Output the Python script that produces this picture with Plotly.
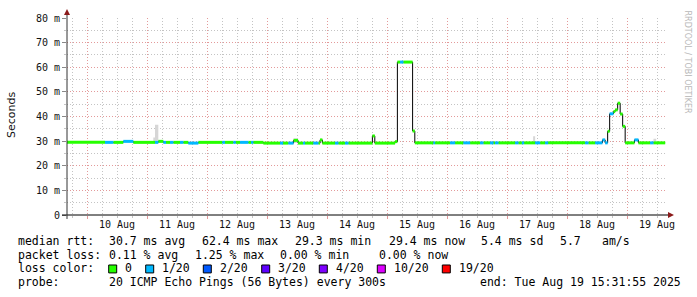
import plotly.graph_objects as go

# ---------------- data ----------------
seg_start = [
    "2025-08-09 16:00", "2025-08-10 07:12", "2025-08-10 10:31", "2025-08-10 14:31", "2025-08-10 18:31",
    "2025-08-11 03:12", "2025-08-11 04:31", "2025-08-11 06:31", "2025-08-11 07:36", "2025-08-11 09:12",
    "2025-08-11 10:31", "2025-08-11 13:12", "2025-08-11 14:31", "2025-08-11 16:31", "2025-08-11 20:31",
    "2025-08-12 06:07", "2025-08-12 07:12", "2025-08-12 10:31", "2025-08-12 11:29", "2025-08-12 13:12",
    "2025-08-12 16:31", "2025-08-12 17:36", "2025-08-12 18:31", "2025-08-12 22:31", "2025-08-13 05:12",
    "2025-08-13 06:24", "2025-08-13 08:31", "2025-08-13 10:36", "2025-08-13 12:24", "2025-08-13 14:24",
    "2025-08-13 15:12", "2025-08-13 18:31", "2025-08-13 20:31", "2025-08-13 21:12", "2025-08-13 22:07",
    "2025-08-14 03:12", "2025-08-14 04:31", "2025-08-14 07:12", "2025-08-14 08:31", "2025-08-14 18:07",
    "2025-08-14 19:05", "2025-08-15 03:12", "2025-08-15 04:07", "2025-08-15 05:12", "2025-08-15 06:31",
    "2025-08-15 10:12", "2025-08-15 11:05", "2025-08-15 18:31", "2025-08-15 19:12", "2025-08-16 01:12",
    "2025-08-16 03:12", "2025-08-16 06:31", "2025-08-16 09:12", "2025-08-16 13:12", "2025-08-16 14:31",
    "2025-08-16 17:12", "2025-08-16 18:31", "2025-08-16 19:12", "2025-08-16 20:31", "2025-08-17 03:12",
    "2025-08-17 04:31", "2025-08-17 05:53", "2025-08-17 06:48", "2025-08-17 11:12", "2025-08-17 13:12",
    "2025-08-17 15:12", "2025-08-17 16:24", "2025-08-18 07:12", "2025-08-18 08:31", "2025-08-18 11:12",
    "2025-08-18 14:07", "2025-08-18 15:12", "2025-08-18 16:12", "2025-08-18 17:00", "2025-08-18 18:31",
    "2025-08-18 19:12", "2025-08-18 20:12", "2025-08-18 21:12", "2025-08-18 22:12", "2025-08-18 23:12",
    "2025-08-19 02:55", "2025-08-19 04:31", "2025-08-19 09:12", "2025-08-19 10:31",
]
data_end = "2025-08-19 15:12"

seg_rtt_ms = [
    29.5, 29.5, 29.5, 29.9, 29.5,
    29.5, 29.9, 29.5, 29.5, 29.5,
    29.5, 29.5, 29.5, 29.2, 29.5,
    29.5, 29.5, 29.5, 29.5, 29.5,
    29.5, 29.5, 29.5, 29.2, 29.2,
    29.2, 29.2, 30.3, 29.2, 29.2,
    29.2, 29.2, 29.2, 30.5, 29.2,
    29.2, 29.2, 29.2, 29.2, 32.1,
    29.2, 29.8, 62.1, 62.1, 62.1,
    34.1, 29.3, 29.3, 29.3, 29.3,
    29.3, 29.3, 29.3, 29.3, 29.3,
    29.3, 29.3, 29.3, 29.3, 29.3,
    29.3, 29.3, 29.3, 29.3, 29.3,
    29.3, 29.3, 29.3, 29.3, 29.3,
    30.5, 29.3, 34.0, 41.1, 42.0,
    42.7, 45.4, 41.0, 36.0, 29.3,
    30.5, 29.3, 29.3, 29.3,
]

# lost pings out of 20 per segment
seg_loss = [
    0, 1, 0, 1, 0,
    1, 0, 1, 0, 1,
    0, 1, 0, 1, 0,
    1, 0, 1, 0, 1,
    0, 1, 0, 0, 1,
    0, 1, 0, 0, 1,
    0, 1, 0, 0, 0,
    1, 0, 1, 0, 0,
    0, 0, 0, 1, 0,
    0, 0, 1, 0, 1,
    0, 1, 0, 1, 0,
    1, 0, 1, 0, 1,
    0, 1, 0, 1, 0,
    1, 0, 1, 0, 1,
    1, 1, 0, 1, 0,
    0, 0, 0, 0, 0,
    1, 0, 1, 0,
]

smoke_start = ["2025-08-11 02:31", "2025-08-11 03:12", "2025-08-13 10:36", "2025-08-17 10:24", "2025-08-19 10:31"]
smoke_end = ["2025-08-11 03:12", "2025-08-11 04:31", "2025-08-13 12:24", "2025-08-17 11:12", "2025-08-19 11:36"]
smoke_low_ms = [29.3, 29.3, 29.2, 29.3, 29.3]
smoke_high_ms = [31.5, 36.6, 31.2, 32.0, 31.0]

midnights = ["2025-08-%02d 00:00" % d for d in range(10, 20)]
day_label_pos = ["2025-08-%02d 12:00" % d for d in range(10, 20)]
day_labels = ["%d Aug" % d for d in range(10, 20)]

y_ticks = [0, 10, 20, 30, 40, 50, 60, 70, 80]
y_labels = ["0", "10 m", "20 m", "30 m", "40 m", "50 m", "60 m", "70 m", "80 m"]

loss_counts = [0, 1, 2, 3, 4, 10, 19]
loss_names = ["0", "1/20", "2/20", "3/20", "4/20", "10/20", "19/20"]
loss_colors = ["#26ff00", "#00b8ff", "#0059ff", "#5e00ff", "#7e00ff", "#dd00ff", "#ff0000"]

rtt_items = ["median rtt:", "30.7 ms avg", "62.4 ms max", "29.3 ms min", "29.4 ms now", "5.4 ms sd", "5.7", "am/s"]
loss_items = ["packet loss:", "0.11 % avg", "1.25 % max", "0.00 % min", "0.00 % now"]
probe_items = ["probe:", "20 ICMP Echo Pings (56 Bytes) every 300s", "end: Tue Aug 19 15:31:55 2025"]

x_start = "2025-08-09 16:00"
x_end = "2025-08-19 15:31:55"

# ---------------- layout geometry (pixels) ----------------
W, H = 697, 297
L, R, T, B = 67, 666, 16, 215


def px(p):
    return (p - L) / (R - L)


def py(p):
    return (B - p) / (B - T)


fig = go.Figure()

# smoke
sx, sy = [], []
for s, e, lo, hi in zip(smoke_start, smoke_end, smoke_low_ms, smoke_high_ms):
    sx += [s, e, e, s, s, None]
    sy += [lo, lo, hi, hi, lo, None]
fig.add_trace(go.Scatter(x=sx, y=sy, mode="lines", fill="toself", fillcolor="#d6d6d6",
                         line=dict(width=0, color="#d6d6d6"), hoverinfo="skip"))

# black step line
fig.add_trace(go.Scatter(x=seg_start + [data_end], y=seg_rtt_ms + [seg_rtt_ms[-1]], mode="lines",
                         line=dict(color="#000000", width=1, shape="hv"), hoverinfo="skip"))

# loss coloured median
ends = seg_start[1:] + [data_end]
for cnt, col in zip(loss_counts, loss_colors):
    xs, ys = [], []
    for s, e, v, l in zip(seg_start, ends, seg_rtt_ms, seg_loss):
        if l == cnt:
            xs += [s, e, None]
            ys += [v, v, None]
    if xs:
        fig.add_trace(go.Scatter(x=xs, y=ys, mode="lines", line=dict(color=col, width=3, simplify=False),
                                 hoverinfo="skip"))

mono = "DejaVu Sans Mono"
grid_minor = "#c4c4c4"
grid_major = "#e39a9a"

fig.update_layout(
    width=W, height=H,
    margin=dict(l=L, r=W - R, t=T, b=H - B),
    paper_bgcolor="white", plot_bgcolor="white",
    showlegend=False,
    xaxis=dict(
        type="date", range=[x_start, x_end],
        tickmode="array", tickvals=midnights, showticklabels=False,
        showgrid=True, gridcolor=grid_major, griddash="1px,2px", gridwidth=1,
        ticks="outside", ticklen=3, tickcolor=grid_major,
        minor=dict(tickmode="linear", tick0="2025-08-09 00:00", dtick=21600000,
                   showgrid=True, gridcolor=grid_minor, griddash="1px,2px", gridwidth=1,
                   ticks="outside", ticklen=2, tickcolor=grid_minor),
        showline=False, zeroline=False,
    ),
    yaxis=dict(
        range=[0, 80], tickmode="array", tickvals=y_ticks, ticktext=y_labels,
        tickfont=dict(family=mono, size=10, color="#111"),
        showgrid=True, gridcolor=grid_major, griddash="1px,2px", gridwidth=1,
        ticks="outside", ticklen=4, tickcolor="#888",
        minor=dict(tickmode="linear", tick0=0, dtick=5,
                   showgrid=True, gridcolor=grid_minor, griddash="1px,2px", gridwidth=1,
                   ticks="outside", ticklen=2, tickcolor=grid_minor),
        showline=False, zeroline=False,
    ),
)

shapes = []
# axis lines
shapes.append(dict(type="line", xref="paper", yref="paper", x0=px(62), x1=px(669), y0=py(215), y1=py(215),
                   line=dict(color="#000", width=1)))
shapes.append(dict(type="line", xref="paper", yref="paper", x0=px(67), x1=px(67), y0=py(219), y1=py(12),
                   line=dict(color="#333", width=1)))
# arrows
shapes.append(dict(type="path", xref="paper", yref="paper",
                   path="M %f %f L %f %f L %f %f Z" % (px(668), py(212), px(674), py(215), px(668), py(218)),
                   fillcolor="#8b1a1a", line=dict(color="#8b1a1a", width=0)))
shapes.append(dict(type="path", xref="paper", yref="paper",
                   path="M %f %f L %f %f L %f %f Z" % (px(64), py(13), px(67), py(7), px(70), py(13)),
                   fillcolor="#8b1a1a", line=dict(color="#8b1a1a", width=0)))

annotations = []
# x day labels
for pos, lab in zip(day_label_pos, day_labels):
    annotations.append(dict(x=pos, y=py(225), xref="x", yref="paper", text=lab, showarrow=False,
                            xanchor="center", yanchor="middle", font=dict(family=mono, size=10, color="#111")))
# y title
annotations.append(dict(x=px(11), y=py(114), xref="paper", yref="paper", text="Seconds", showarrow=False,
                        textangle=-90, xanchor="center", yanchor="middle",
                        font=dict(family="DejaVu Sans", size=11, color="#111")))
# watermark
annotations.append(dict(x=px(687), y=py(60), xref="paper", yref="paper", text="RRDTOOL / TOBI OETIKER",
                        showarrow=False, textangle=90, xanchor="center", yanchor="middle",
                        font=dict(family="DejaVu Sans", size=8, color="#b8b8b8")))


def txt(x, y, s):
    annotations.append(dict(x=px(x), y=py(y), xref="paper", yref="paper", text=s.replace(" ", "\u00a0"),
                            showarrow=False, xanchor="left", yanchor="middle",
                            font=dict(family=mono, size=11.5, color="#000")))


row_y = [241.5, 255, 269, 282.7]
for x, s in zip([16, 107.3, 200, 293.3, 386.7, 479.3, 558.3, 600], rtt_items):
    txt(x, row_y[0], s)
for x, s in zip([16, 107.3, 192.7, 278.3, 377.3], loss_items):
    txt(x, row_y[1], s)
txt(16, row_y[2], "loss color:")
sq_x = [108.7, 145.7, 203.3, 261.7, 319.3, 377.3, 442.3]
lab_x = [123, 160, 218.3, 276, 334, 391.7, 456.7]
for x0, lx, name, col in zip(sq_x, lab_x, loss_names, loss_colors):
    shapes.append(dict(type="rect", xref="paper", yref="paper", x0=px(x0), x1=px(x0 + 8),
                       y0=py(273.5), y1=py(265.5), fillcolor=col, line=dict(color="#000", width=1)))
    txt(lx, row_y[2], name)
for x, s in zip([16, 107.3, 478.3], probe_items):
    txt(x, row_y[3], s)

fig.update_layout(shapes=shapes, annotations=annotations)
fig.write_html("out.html")
